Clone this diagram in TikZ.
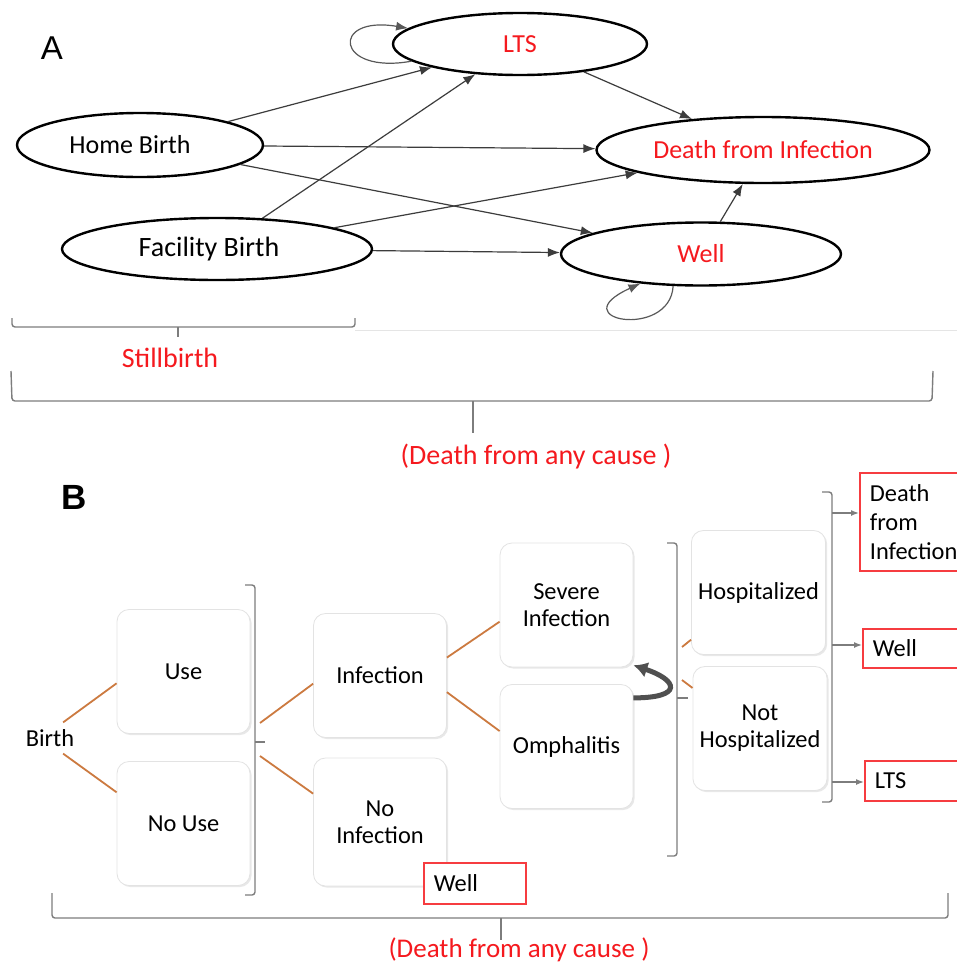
\documentclass[tikz,border=0pt]{standalone}
\usepackage{fontspec}
\setmainfont{Carlito}
\newfontfamily\panelfont{Liberation Sans}
\usetikzlibrary{shapes.geometric,shadows,arrows.meta}
\definecolor{outcomeRed}{RGB}{245,25,30}
\definecolor{branchOrange}{RGB}{204,122,64}
\definecolor{braceGray}{RGB}{125,125,125}
\definecolor{edgeGray}{RGB}{60,60,60}
\tikzset{state/.style={ellipse, draw=black, line width=1.2pt, fill=white,
    inner sep=0pt, font=\fontsize{13}{15}\selectfont},
  outcome/.style={text=outcomeRed},
  transition/.style={-{Latex[length=6pt,width=4.5pt]}, draw=edgeGray, line width=0.6pt},
  selfLoop/.style={transition, draw=edgeGray!85},
  stage/.style={rectangle, rounded corners=6pt, draw=gray!22, fill=white,
    drop shadow={opacity=0.18, shadow xshift=0.8pt, shadow yshift=-0.8pt},
    minimum width=66.5pt, minimum height=62pt, align=center,
    font=\fontsize{12.2}{13.5}\selectfont},
  endBox/.style={rectangle, draw=outcomeRed!85, line width=0.9pt, fill=white,
    anchor=north west, align=left, inner xsep=5pt, inner ysep=2pt,
    text width=46pt, font=\fontsize{12.2}{14.5}\selectfont},
  branch/.style={draw=branchOrange, line width=0.9pt},
  brace/.style={draw=braceGray, line width=0.7pt, rounded corners=1.5pt},
  outArrow/.style={-{Latex[length=4pt,width=3pt]}, draw=braceGray, line width=0.7pt},
  causeText/.style={text=outcomeRed, font=\fontsize{14}{16}\selectfont},
}

\begin{document}
\begin{tikzpicture}[x=0.5pt, y=-0.5pt]
	\useasboundingbox (0,0) rectangle (957,964);
	\fill[white] (0,0) rectangle (957,964);
	\clip (0,0) rectangle (957,964);

	% panel A: states
	\node (labelA) at (52,48) {\panelfont\fontsize{16.5}{18}\selectfont A};
	\node[state, outcome, minimum width=127pt, minimum height=31pt] (lts) at (520,44) {LTS};
	\node[state, minimum width=123pt, minimum height=32pt] (homeBirth) at (140,145) {Home Birth\hspace*{10pt}};
	\node[state, minimum width=155pt, minimum height=31pt,
	      font=\fontsize{14}{16}\selectfont] (facilityBirth) at (217,249) {Facility Birth\hspace*{8pt}};
	\node[state, outcome, minimum width=166.5pt, minimum height=33pt] (deathInf) at (763,150) {Death from Infection};
	\node[state, outcome, minimum width=140pt, minimum height=31.5pt] (well) at (701,254) {Well};

	\draw[transition] (homeBirth) -- (lts);
	\draw[transition] (homeBirth) -- (deathInf);
	\draw[transition] (homeBirth) -- (well);
	\draw[transition] (facilityBirth) -- (lts);
	\draw[transition] (facilityBirth) -- (deathInf);
	\draw[transition] (facilityBirth) -- (well);
	\draw[transition] (lts) -- (deathInf);
	\draw[transition] (well) -- (deathInf);
	\draw[selfLoop] (lts.189) .. controls (335,75) and (330,15) .. (lts.172);
	\draw[selfLoop] (well.229) .. controls (670,340) and (560,320) .. (well.206);

	% panel A: braces
	\draw[gray!20, line width=0.5pt] (355,330) -- (957,330);
	\draw[brace] (12,318) -- (12,327) -- (355,327) -- (355,318);
	\draw[brace] (178,327) -- (178,337);
	\node[causeText] (stillbirth) at (170,358) {Stillbirth};
	\draw[brace] (11,371) -- (12,401) -- (932,401) -- (933,371);
	\draw[brace] (473,401) -- (473,433);
	\node[causeText] (anyCauseA) at (536,457) {(Death from any cause )};

	% panel B: decision tree
	\node (labelB) at (74,497) {\panelfont\bfseries\fontsize{17.5}{20}\selectfont B};
	\node[font=\fontsize{12.2}{14}\selectfont] (birth) at (50,738) {Birth};
	\node[stage] (use) at (183.5,671.5) {Use};
	\node[stage] (noUse) at (183.5,823.5) {No Use};
	\node[stage] (infection) at (380,675.5) {Infection};
	\node[stage, minimum height=64pt] (noInfection) at (380,822) {No\\Infection};
	\node[stage] (severe) at (566.5,605) {Severe\\Infection};
	\node[stage] (omph) at (566.5,746.5) {Omphalitis};
	\node[stage] (hosp) at (758.5,592.5) {Hospitalized};
	\node[stage] (notHosp) at (760,728.5) {Not\\Hospitalized};

	\draw[branch] (birth.50) -- (use.190);
	\draw[branch] (birth.-50) -- (noUse.155);
	\draw[branch] (infection.15) -- (severe.194);
	\draw[branch] (infection.-14) -- (omph.167);

	% braces between the stages
	\draw[brace] (245,585) -- (255,585) -- (255,895) -- (245,895);
	\draw[brace] (255,742) -- (265,742);
	\coordinate (useBraceTop) at (260,723);
	\coordinate (useBraceBot) at (260,756);
	\draw[branch] (useBraceTop) -- (infection.187);
	\draw[branch] (useBraceBot) -- (noInfection.157);

	\draw[brace] (667,543) -- (677,543) -- (677,856) -- (667,856);
	\draw[brace] (677,698) -- (688,698);
	\coordinate (careBraceTop) at (682,647);
	\coordinate (careBraceBot) at (682,680);
	\draw[branch] (careBraceTop) -- (hosp.215);
	\draw[branch] (careBraceBot) -- (notHosp.149);

	% omphalitis can turn severe
	\draw[-{Latex[length=7pt,width=8pt]}, draw=edgeGray!90, line width=2.5pt]
		(omph.36) .. controls +(50,0) and +(45,15) .. (severe.-42);

	% outcomes
	\node[endBox, minimum height=49pt] (deathBox) at (859,472) {Death\\from\\Infection};
	\node[endBox, minimum height=19.5pt] (wellBoxB) at (862,628) {Well};
	\node[endBox, minimum height=20pt] (ltsBox) at (864,760) {LTS};
	\node[endBox, minimum height=20.5pt, text width=41pt] (wellBoxA) at (423,862) {Well};

	\draw[brace] (822,492) -- (832,492) -- (832,802) -- (822,802);
	\coordinate (outBraceTop) at (832,513);
	\coordinate (outBraceMid) at (832,645);
	\coordinate (outBraceBot) at (832,782);
	\draw[outArrow] (outBraceTop) -- (deathBox.west |- outBraceTop);
	\draw[outArrow] (outBraceMid) -- (wellBoxB.west |- outBraceMid);
	\draw[outArrow] (outBraceBot) -- (ltsBox.west |- outBraceBot);

	\draw[brace] (52,893) -- (52,918) -- (948,918) -- (948,893);
	\draw[brace] (501,918) -- (501,940);
	\node[causeText, font=\fontsize{13.5}{16}\selectfont] (anyCauseB) at (519,950) {(Death from any cause )};
\end{tikzpicture}
\end{document}
